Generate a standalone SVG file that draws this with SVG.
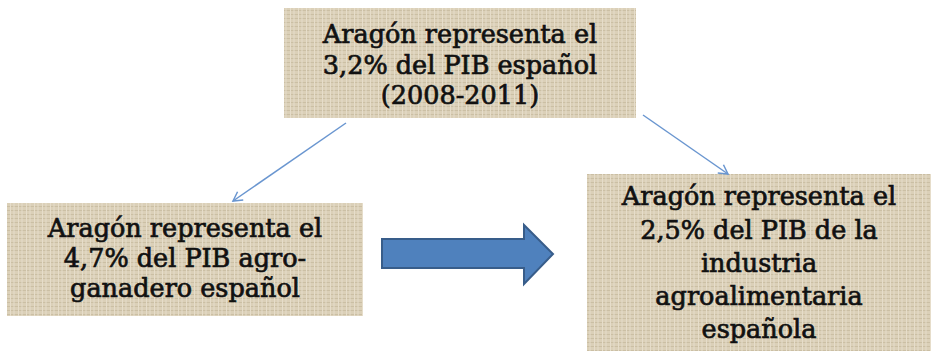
<svg xmlns="http://www.w3.org/2000/svg" width="933" height="353" viewBox="0 0 933 353">
<style>
.box{fill:url(#linen);}
.t{font-family:"DejaVu Serif","Liberation Serif",serif;font-size:25.5px;fill:#111;stroke:#111;stroke-width:0.7;text-anchor:middle;}
.conn{stroke:#6a96d0;stroke-width:1.5;fill:none;}
</style>
<defs>
<pattern id="linen" width="8" height="8" patternUnits="userSpaceOnUse">
<rect width="8" height="8" fill="#dbd0b8"/>
<path d="M0 2.5H8M0 6.5H8" stroke="#cbbfa4" stroke-width="1"/>
<path d="M2.5 0V8M6 0V8" stroke="#e6ddca" stroke-width="1"/>
</pattern>
<marker id="open" markerWidth="12" markerHeight="12" refX="10" refY="6" orient="auto" markerUnits="userSpaceOnUse">
<path d="M1 1L10 6L1 11" stroke="#6a96d0" stroke-width="1.5" fill="none"/>
</marker>
</defs>
<g id="node-top">
<rect class="box" x="284" y="8" width="352" height="110"/>
<text class="t" x="460" y="43">Aragón representa el</text>
<text class="t" x="460" y="74">3,2% del PIB español</text>
<text class="t" x="460" y="104">(2008-2011)</text>
</g>
<g id="node-left">
<rect class="box" x="7" y="203" width="356" height="113"/>
<text class="t" x="185" y="237">Aragón representa el</text>
<text class="t" x="185" y="267">4,7% del PIB agro-</text>
<text class="t" x="185" y="297">ganadero español</text>
</g>
<g id="node-right">
<rect class="box" x="587" y="174" width="344" height="177"/>
<text class="t" x="759" y="205">Aragón representa el</text>
<text class="t" x="759" y="239">2,5% del PIB de la</text>
<text class="t" x="759" y="272">industria</text>
<text class="t" x="759" y="305">agroalimentaria</text>
<text class="t" x="759" y="338">española</text>
</g>
<g id="connectors">
<line class="conn" x1="346" y1="123" x2="233" y2="201" marker-end="url(#open)"/>
<line class="conn" x1="643" y1="115" x2="728" y2="174" marker-end="url(#open)"/>
<path d="M382 239H524V225L553 254L524 284V268H382Z" fill="#4f81bd" stroke="#385d8a" stroke-width="2"/>
</g>
</svg>
